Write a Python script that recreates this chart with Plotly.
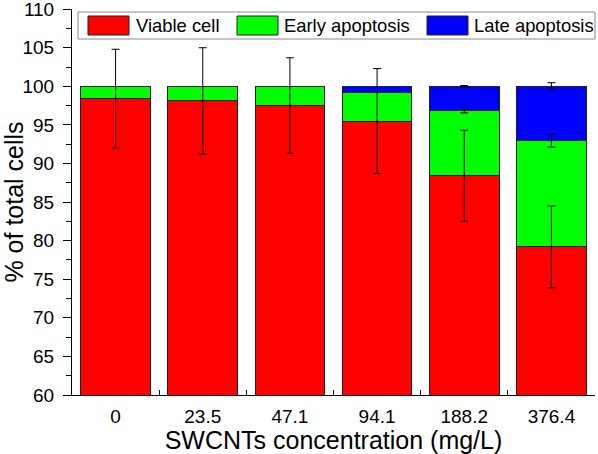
import plotly.graph_objects as go

categories = ["0", "23.5", "47.1", "94.1", "188.2", "376.4"]
viable = [98.4, 98.1, 97.5, 95.5, 88.4, 79.2]
early = [1.6, 1.9, 2.5, 3.75, 8.5, 13.8]
late = [0.0, 0.0, 0.0, 0.75, 3.1, 7.0]
viable_err = [6.4, 6.9, 6.2, 6.8, 5.9, 5.3]
early_err = [0, 0, 0, 0, 0.35, 0.87]
late_err = [0, 0, 0, 0, 0.1, 0.47]
series_names = ["Viable cell", "Early apoptosis", "Late apoptosis"]
colors = ["#FF0000", "#00FF00", "#0000FF"]

W, H = 598, 454
ML, MR, MT, MB = 72, 3, 9, 59
PW, PH = W - ML - MR, H - MT - MB


def px(x):
    return (x - ML) / PW


def py(y):
    return (H - MB - y) / PH


fig = go.Figure()
for vals, name, col in zip([viable, early, late], series_names, colors):
    fig.add_trace(go.Bar(
        x=categories, y=vals, name=name,
        marker=dict(color=col, line=dict(color="#222222", width=1)),
        showlegend=False,
    ))

# error bars on top of each stack segment
tops_v = viable
tops_e = [a + b for a, b in zip(viable, early)]
tops_l = [a + b + c for a, b, c in zip(viable, early, late)]
for tops, errs in [(tops_v, viable_err), (tops_e, early_err), (tops_l, late_err)]:
    fig.add_trace(go.Scatter(
        x=categories,
        y=[t if e > 0 else None for t, e in zip(tops, errs)],
        mode="markers", marker=dict(opacity=0, size=1),
        error_y=dict(type="data", array=errs, color="black", thickness=1, width=4),
        showlegend=False, hoverinfo="skip",
    ))

# custom legend (large swatches like the original)
shapes = [dict(type="rect", xref="paper", yref="paper",
               x0=px(78), x1=px(595), y0=py(39), y1=py(12),
               line=dict(color="#8a8a8a", width=1), fillcolor="white", layer="above")]
annotations = []
sw_x = [88, 237, 427]
tx_x = [134, 282, 472]
for sx, tx, name, col in zip(sw_x, tx_x, series_names, colors):
    shapes.append(dict(type="rect", xref="paper", yref="paper",
                       x0=px(sx), x1=px(sx + 41), y0=py(35), y1=py(16),
                       line=dict(color="#222222", width=1), fillcolor=col, layer="above"))
    annotations.append(dict(xref="paper", yref="paper", x=px(tx), y=py(25.5),
                            xanchor="left", yanchor="middle", showarrow=False,
                            text=name, font=dict(size=18.4, color="black")))

fig.update_layout(
    width=W, height=H,
    margin=dict(l=ML, r=MR, t=MT, b=MB, autoexpand=False),
    paper_bgcolor="white", plot_bgcolor="white",
    barmode="stack", bargap=0.2,
    font=dict(family="Liberation Sans, Arial, sans-serif", color="black", size=18),
    shapes=shapes, annotations=annotations,
    xaxis=dict(
        type="category", range=[-0.5, 5.5], automargin=False,
        showline=True, linecolor="black", linewidth=1,
        ticks="inside", tickson="boundaries", ticklen=5, tickcolor="black",
        tickfont=dict(size=19), ticklabelstandoff=4,
        title=dict(text="SWCNTs concentration (mg/L)", font=dict(size=25), standoff=6),
        showgrid=False, zeroline=False,
    ),
    yaxis=dict(
        range=[60, 110.02], dtick=5, tick0=60, automargin=False,
        showline=True, linecolor="black", linewidth=1,
        ticks="outside", ticklen=8, tickcolor="black",
        minor=dict(dtick=2.5, ticks="outside", ticklen=5, tickcolor="black"),
        tickfont=dict(size=19), ticklabelstandoff=5, ticklabeloverflow="allow",
        title=dict(text="% of total cells", font=dict(size=25), standoff=6),
        showgrid=False, zeroline=False,
    ),
)

fig.write_html("out.html", config={"displayModeBar": False},
               post_script="document.body.style.margin='0';")
